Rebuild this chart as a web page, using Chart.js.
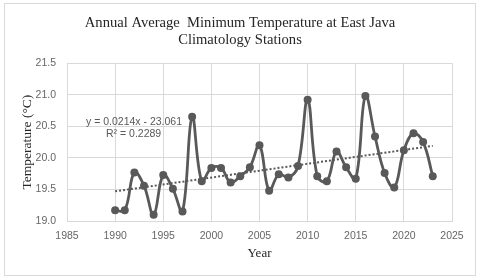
<!DOCTYPE html>
<html>
<head>
<meta charset="utf-8">
<script src="https://cdn.jsdelivr.net/npm/chart.js@4"></script>
<style>
  body { margin: 0; background: #fff; }
  #box { position: absolute; left: 0; top: 0; width: 480px; height: 280px; }
</style>
</head>
<body>
<div id="box"><canvas id="chart_a" width="480" height="280"></canvas></div>
<script>
// values
var years = [1990, 1991, 1992, 1993, 1994, 1995, 1996, 1997, 1998, 1999,
             2000, 2001, 2002, 2003, 2004, 2005, 2006, 2007, 2008, 2009,
             2010, 2011, 2012, 2013, 2014, 2015, 2016, 2017, 2018, 2019,
             2020, 2021, 2022, 2023];
var minTemp = [19.17, 19.17, 19.77, 19.56, 19.10, 19.73, 19.51, 19.15, 20.65, 19.63,
               19.84, 19.84, 19.61, 19.71, 19.85, 20.20, 19.48, 19.74, 19.69, 19.87,
               20.92, 19.71, 19.63, 20.10, 19.85, 19.67, 20.98, 20.34, 19.76, 19.53,
               20.12, 20.39, 20.25, 19.71];
var trendYears = [1990, 2023];
var trendTemp = [19.47, 20.19];
var xTicks = [1985, 1990, 1995, 2000, 2005, 2010, 2015, 2020, 2025];
var yTicks = [19.0, 19.5, 20.0, 20.5, 21.0, 21.5];
var trendLabel = ['y = 0.0214x - 23.061', 'R\u00b2 = 0.2289'];

var grey = '#595959';
var tickGrey = '#666666';
var gridGrey = '#d9d9d9';

function pts(xs, ys) {
  return xs.map(function (x, i) { return {x: x, y: ys[i]}; });
}

var frame = {
  id: 'frame',
  beforeDraw: function (chart) {
    var ctx = chart.ctx;
    ctx.save();
    ctx.fillStyle = '#fff';
    ctx.fillRect(0, 0, chart.width, chart.height);
    ctx.strokeStyle = gridGrey;
    ctx.lineWidth = 1;
    ctx.strokeRect(4.5, 3.5, 471, 272);
    ctx.restore();
  },
  afterDatasetsDraw: function (chart) {
    var ctx = chart.ctx;
    var a = chart.chartArea;
    ctx.save();
    ctx.fillStyle = grey;
    ctx.font = '10.5px "Liberation Sans"';
    ctx.textBaseline = 'middle';
    ctx.textAlign = 'left';
    ctx.fillText(trendLabel[0], a.left + 19, a.top + 59);
    ctx.fillText(trendLabel[1], a.left + 39, a.top + 71);
    ctx.restore();
  }
};

var ctxL = document.getElementById('chart_a').getContext('2d');
var myLineChart = new Chart(ctxL, {
  type: 'line',
  data: {
    datasets: [{
      label: 'Tmin',
      data: pts(years, minTemp),
      borderColor: grey,
      backgroundColor: grey,
      borderWidth: 2.8,
      pointRadius: 4,
      pointBackgroundColor: grey,
      pointBorderWidth: 0,
      tension: 0.4
    }, {
      label: 'Trend',
      data: pts(trendYears, trendTemp),
      borderColor: grey,
      borderWidth: 2,
      borderDash: [2, 2],
      pointRadius: 0,
      tension: 0
    }]
  },
  plugins: [frame],
  options: {
    responsive: false,
    animation: false,
    layout: { padding: 0 },
    plugins: {
      legend: { display: false },
      tooltip: { enabled: false },
      title: {
        display: true,
        text: ['Annual Average  Minimum Temperature at East Java', 'Climatology Stations'],
        color: '#262626',
        font: { family: '"Liberation Serif"', size: 14.6, weight: 'normal', lineHeight: 1.17 },
        padding: { top: 15, bottom: 14 }
      }
    },
    scales: {
      x: {
        type: 'linear',
        min: 1985,
        max: 2025,
        afterBuildTicks: function (s) { s.ticks = xTicks.map(function (v) { return {value: v}; }); },
        afterFit: function (s) { s.height = 59; },
        grid: { color: gridGrey, drawTicks: false },
        border: { color: gridGrey },
        ticks: {
          padding: 9,
          color: tickGrey,
          font: { family: '"Liberation Sans"', size: 10.5 },
          callback: function (v) { return String(v); }
        },
        title: {
          display: true,
          text: 'Year',
          color: '#262626',
          font: { family: '"Liberation Serif"', size: 13 },
          padding: { top: 0, bottom: 19 }
        }
      },
      y: {
        min: 19,
        max: 21.5,
        afterBuildTicks: function (s) { s.ticks = yTicks.map(function (v) { return {value: v}; }); },
        afterFit: function (s) { s.width = 67; },
        grid: { color: gridGrey, drawTicks: false },
        border: { color: gridGrey },
        ticks: {
          padding: 11,
          color: tickGrey,
          font: { family: '"Liberation Sans"', size: 10.5 },
          callback: function (v) { return Number(v).toFixed(1); }
        },
        title: {
          display: true,
          text: 'Temperature (\u00b0C)',
          color: '#262626',
          font: { family: '"Liberation Serif"', size: 13.5 },
          padding: { top: 19, bottom: 0 }
        }
      },
      spacer: {
        position: 'right',
        min: 0,
        max: 1,
        afterFit: function (s) { s.width = 28; },
        grid: { display: false },
        border: { display: false },
        ticks: { display: false }
      }
    }
  }
});
</script>
</body>
</html>
